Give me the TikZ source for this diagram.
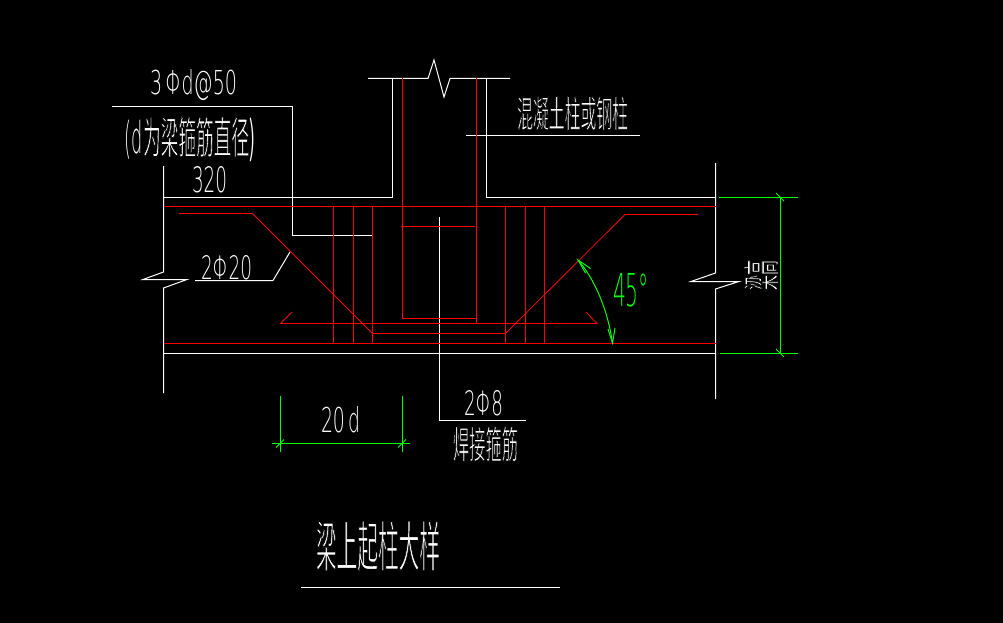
\documentclass[tikz,border=0pt]{standalone}
\usepackage{fontspec}
\usepackage{graphicx}
\setmainfont{DejaVu Sans ExtraLight}
\newfontfamily\cjk{Noto Sans CJK SC}
\definecolor{cadred}{RGB}{255,0,0}
\definecolor{cadgreen}{RGB}{0,255,0}
\tikzset{
  wline/.style={draw=white,line width=1pt},
  rline/.style={draw=cadred,line width=1pt},
  rthin/.style={draw=cadred,line width=0.8pt},
  gline/.style={draw=cadgreen,line width=1pt},
  cadlabel/.style={inner sep=0pt,outer sep=0pt,text=white},
  cadgreenlabel/.style={cadlabel,text=cadgreen}
}
% thin the CJK strokes: fill the glyph, then stroke its edge in the background colour
\newcommand{\slim}[1]{\special{pdf:code 2 Tr 0.22 w 0 0 0 RG}#1\special{pdf:code 0 Tr}}
% name, style, x1, y1, x2, y2, text
\newcommand{\cadtext}[7]{%
  \pgfmathsetmacro{\cadw}{#5-#3}\pgfmathsetmacro{\cadh}{#6-#4}%
  \node[#2] (#1) at ({(#3+#5)/2},{(#4+#6)/2}) {\resizebox{\cadw pt}{\cadh pt}{#7}};}
\begin{document}
\begin{tikzpicture}[x=1pt,y=-1pt]
\fill[black] (0,0) rectangle (1003,623);
\useasboundingbox (0,0) rectangle (1003,623);
% white outline
\draw[wline] (368,78.5) -- (428,78.5) -- (434,60) -- (444,97) -- (450,78.5) -- (510,78.5);
\draw[wline] (392.5,78.5) -- (392.5,197.5) -- (163.5,197.5);
\draw[wline] (486.5,78.5) -- (486.5,197.5) -- (715.5,197.5);
\draw[wline] (163.5,166) -- (163.5,272) -- (143,279.5) -- (187,279.5) -- (163.5,288) -- (163.5,393);
\draw[wline] (715.5,163) -- (715.5,273) -- (691,281.5) -- (739,281.5) -- (715.5,289) -- (715.5,399);
\draw[wline] (163.5,353.5) -- (715.5,353.5);
% leaders
\draw[wline] (112,106.5) -- (292.5,106.5) -- (292.5,235.5) -- (372.5,235.5);
\draw[wline] (466,135.5) -- (640,135.5);
\draw[wline] (195,280.5) -- (273,280.5) -- (290,252);
\draw[wline] (439.5,217) -- (439.5,420.5) -- (526,420.5);
\draw[wline] (301,587.5) -- (560,587.5);
% red steel
\draw[rline] (163.5,206.5) -- (715.5,206.5);
\draw[rline] (402.5,78.5) -- (402.5,318.5);
\draw[rline] (476.5,78.5) -- (476.5,323.5);
\draw[rline] (402.5,318.5) -- (476.5,318.5);
\draw[rline] (401,226.5) -- (475,226.5);
\draw[rline] (372.5,206.5) -- (372.5,343.5);
\draw[rline] (544.5,206.5) -- (544.5,343.5);
\draw[rline] (333.5,206.5) -- (333.5,343.5);
\draw[rline] (353.5,206.5) -- (353.5,343.5);
\draw[rline] (505.5,206.5) -- (505.5,343.5);
\draw[rline] (525.5,206.5) -- (525.5,343.5);
\draw[rline] (163.5,343.5) -- (715.5,343.5);
\draw[rthin] (179,213.5) -- (252.5,213.5) -- (372.5,333.5) -- (505.5,333.5) -- (625,214.5) -- (698,214.5);
\draw[rthin] (292,312) -- (280.5,323.5) -- (597,323.5) -- (586,312);
% green dimensions
\draw[gline] (719,197.5) -- (798,197.5);
\draw[gline] (720,353.5) -- (798,353.5);
\draw[gline] (780.5,197.5) -- (780.5,353.5);
\draw[gline] (776,193) -- (784,201);
\draw[gline] (776,349) -- (784,357);
\draw[gline] (280.5,396) -- (280.5,452);
\draw[gline] (402.5,396) -- (402.5,452);
\draw[gline] (272,443.5) -- (410,443.5);
\draw[gline] (276,447.5) -- (284,439.5);
\draw[gline] (398,447.5) -- (406,439.5);
\draw[gline] (578,260) .. controls (592,276) and (607,305) .. (612.5,343);
\draw[gline] (590.5,268.5) -- (578,260) -- (585.5,273);
\draw[gline] (608,329) -- (612.5,343) -- (615,328);
% labels
\cadtext{tbars}{cadlabel}{150}{73}{237}{98}{3\,Φd@50}
\cadtext{tnote}{cadlabel}{125}{121}{255}{158}{(d\slim{\cjk 为梁箍筋直径})}
\cadtext{twidth}{cadlabel}{192}{167}{227}{193}{320}
\cadtext{tcolumn}{cadlabel}{517}{98}{628}{129}{\slim{\cjk 混凝土柱或钢柱}}
\cadtext{tmain}{cadlabel}{201}{256}{252}{280}{2Φ20}
\cadtext{tangle}{cadgreenlabel}{613}{274}{649}{307}{45°}
\cadtext{tlen}{cadlabel}{321}{407}{360}{433}{20\,d}
\cadtext{ttie}{cadlabel}{464}{391}{503}{416}{2Φ8}
\cadtext{tweld}{cadlabel}{453}{428}{518}{460}{\slim{\cjk 焊接箍筋}}
\cadtext{ttitle}{cadlabel}{316}{523}{440}{569}{\slim{\cjk 梁上起柱大样}}
\node[cadlabel,rotate=90] (tdepth) at (761,275) {\resizebox{30pt}{32pt}{\slim{\cjk 梁高}}};
\end{tikzpicture}
\end{document}
